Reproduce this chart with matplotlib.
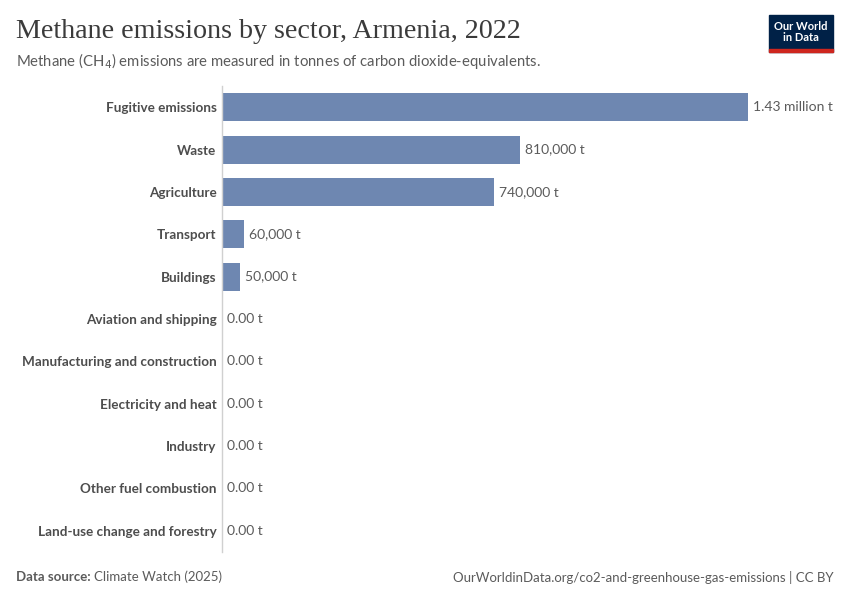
import matplotlib.pyplot as plt
from matplotlib.patches import Rectangle

# Datos
sectors = ['Fugitive emissions', 'Waste', 'Agriculture', 'Transport', 'Buildings',
           'Aviation and shipping', 'Manufacturing and construction',
           'Electricity and heat', 'Industry', 'Other fuel combustion',
           'Land-use change and forestry']
values = [1430000, 810000, 740000, 60000, 50000, 0, 0, 0, 0, 0, 0]
labels = ['1.43 million t', '810,000 t', '740,000 t', '60,000 t', '50,000 t',
          '0.00 t', '0.00 t', '0.00 t', '0.00 t', '0.00 t', '0.00 t']

W, H = 850, 600
plt.rcParams['font.family'] = ['Lato', 'DejaVu Sans']
fig = plt.figure(figsize=(W / 100, H / 100), dpi=100)

ax = fig.add_axes([222 / W, (H - 552) / H, (748 - 222) / W, (552 - 86) / H])
y = list(range(len(sectors)))
ax.barh(y, values, height=0.66, color='#6e87b1')
ax.set_xlim(0, max(values))
ax.set_ylim(len(sectors) - 0.5, -0.5)

for yi, v, lab in zip(y, values, labels):
    ax.text(v + max(values) * 0.009, yi, lab, va='center', ha='left',
            fontsize=10, color='#5b5b5b', clip_on=False)

ax.set_yticks(y)
ax.set_yticklabels(sectors, fontsize=9.7, color='#4d4d4d', fontweight='bold')
ax.tick_params(axis='y', length=0, pad=4)
ax.set_xticks([])
for s in ['top', 'right', 'bottom']:
    ax.spines[s].set_visible(False)
ax.spines['left'].set_color('#d0d0d0')
ax.spines['left'].set_linewidth(1)

# Título y subtítulo
fig.text(16 / W, 1 - 32 / H, 'Methane emissions by sector, Armenia, 2022',
         fontsize=20.2, family=['Liberation Serif', 'DejaVu Serif'],
         color='#3b3b3b', va='center', ha='left')
fig.text(16 / W, 1 - 61 / H,
         'Methane (CH$_4$) emissions are measured in tonnes of carbon dioxide-equivalents.',
         fontsize=10.7, color='#5b5b5b', va='center', ha='left')

# Logo
fig.patches.append(Rectangle((769 / W, 1 - 52 / H), 64 / W, 37 / H,
                             transform=fig.transFigure, color='#002147'))
fig.patches.append(Rectangle((769 / W, 1 - 52 / H), 64 / W, 3 / H,
                             transform=fig.transFigure, color='#ce261e'))
fig.text(801 / W, 1 - 32 / H, 'Our World\nin Data', fontsize=8, color='white',
         ha='center', va='center', linespacing=1.0, fontweight='bold')

# Pie
fig.text(16 / W, 1 - 577 / H, 'Data source:', fontsize=9.5, color='#5b5b5b',
         fontweight='bold', va='center', ha='left')
fig.text(94 / W, 1 - 577 / H, 'Climate Watch (2025)', fontsize=9.5, color='#5b5b5b',
         va='center', ha='left')
fig.text(834 / W, 1 - 577 / H,
         'OurWorldinData.org/co2-and-greenhouse-gas-emissions | CC BY',
         fontsize=9.5, color='#5b5b5b', va='center', ha='right')

fig.savefig('out.png', dpi=100)
